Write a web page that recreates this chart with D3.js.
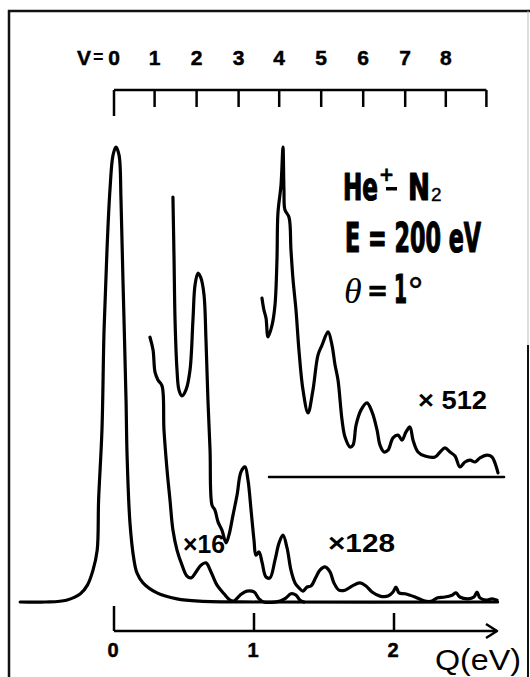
<!DOCTYPE html>
<html>
<head>
<meta charset="utf-8">
<script src="https://cdn.jsdelivr.net/npm/d3@7"></script>
<style>
  body { margin: 0; background: #fff; }
  svg { display: block; }
</style>
</head>
<body>
<script>
// energy loss Q (eV), intensity in % of the elastic peak (as drawn)
const curveX1 = [
  [-0.67, 0], [-0.49, 0], [-0.34, 0.4], [-0.24, 1.8], [-0.19, 3.7], [-0.15, 7.0],
  [-0.12, 11.4], [-0.11, 22.4], [-0.086, 37.8], [-0.071, 59.8], [-0.05, 77.4],
  [-0.029, 90.5], [-0.007, 98.2], [0.014, 100], [0.036, 98.2], [0.05, 88.4],
  [0.064, 70.8], [0.086, 44.4], [0.093, 32.7], [0.114, 17.4], [0.143, 9.2],
  [0.164, 6.4], [0.207, 4.2], [0.307, 2.0], [0.45, 0.7], [0.61, 0.2], [1.04, 0],
  [2.74, 0]
];

const curveX16 = [
  [0.257, 58.2], [0.279, 55.4], [0.293, 50.5], [0.314, 48.8], [0.343, 47.5],
  [0.357, 37.8], [0.379, 29.0], [0.4, 22.4], [0.421, 15.8], [0.45, 11.4],
  [0.486, 8.1], [0.521, 5.7], [0.55, 5.3], [0.586, 6.6], [0.621, 8.1],
  [0.657, 8.6], [0.693, 6.6], [0.736, 3.7], [0.786, 1.8], [0.829, 0.4],
  [0.857, 0.2], [0.9, 1.5], [0.95, 2.4], [1.0, 2.2], [1.036, 0.7], [1.07, 0],
  [1.186, 0.2], [1.229, 0.9], [1.264, 1.8], [1.3, 1.5], [1.329, 0.4], [1.357, 0]
];

const curveX128 = [
  [0.421, 89.0], [0.429, 75.2], [0.436, 62.0], [0.45, 51.0], [0.464, 46.6],
  [0.486, 45.3], [0.514, 46.6], [0.543, 51.0], [0.564, 62.0], [0.579, 69.7],
  [0.6, 72.3], [0.621, 71.2], [0.643, 67.5], [0.657, 57.6], [0.671, 44.4],
  [0.686, 33.4], [0.7, 21.3], [0.721, 20.2], [0.743, 17.6], [0.771, 15.8],
  [0.8, 13.0], [0.821, 14.7], [0.85, 19.1], [0.879, 23.5], [0.907, 28.6],
  [0.936, 29.7], [0.957, 26.8], [0.979, 20.2], [1.0, 13.6], [1.014, 10.3],
  [1.036, 11.0], [1.057, 8.8], [1.086, 5.5], [1.114, 5.3], [1.15, 9.2],
  [1.179, 13.0], [1.207, 14.7], [1.236, 11.9], [1.264, 7.0], [1.293, 4.2],
  [1.321, 3.1], [1.35, 2.4], [1.379, 3.3], [1.407, 3.5], [1.443, 5.5],
  [1.471, 7.0], [1.507, 7.7], [1.543, 6.6], [1.571, 4.2], [1.607, 2.6],
  [1.65, 2.6], [1.7, 3.5], [1.757, 4.2], [1.8, 3.5], [1.843, 2.2], [1.9, 1.3],
  [1.957, 1.3], [1.993, 2.2], [2.014, 3.3], [2.036, 2.0], [2.079, 1.8],
  [2.15, 1.1], [2.221, 0.2], [2.271, 0.2], [2.307, 0.9], [2.364, 1.1],
  [2.414, 1.5], [2.443, 2.0], [2.471, 1.1], [2.529, 0.7], [2.571, 1.1],
  [2.593, 2.2], [2.614, 0.9], [2.657, 0.4], [2.7, 0.7], [2.736, 0.4]
];

// x512 trace is drawn on its own raised baseline
const curveX512 = [
  [1.057, 39.3], [1.071, 36.7], [1.086, 34.9], [1.1, 30.8], [1.129, 33.4],
  [1.15, 37.8], [1.164, 47.7], [1.171, 58.0], [1.193, 64.2], [1.207, 72.5],
  [1.214, 63.1], [1.221, 58.7], [1.25, 57.1], [1.264, 49.9], [1.279, 43.3],
  [1.3, 36.7], [1.321, 27.9], [1.35, 19.1], [1.386, 14.1], [1.421, 19.1],
  [1.457, 26.8], [1.486, 29.0], [1.529, 31.9], [1.557, 29.0], [1.579, 24.6],
  [1.6, 21.3], [1.629, 12.5], [1.65, 8.8], [1.686, 6.6], [1.707, 7.0],
  [1.729, 11.4], [1.764, 14.7], [1.807, 16.3], [1.843, 14.3], [1.879, 10.3],
  [1.9, 7.0], [1.929, 5.5], [1.957, 5.9], [1.993, 8.6], [2.029, 9.2],
  [2.057, 8.1], [2.086, 9.9], [2.114, 11.0], [2.136, 8.1], [2.171, 5.5],
  [2.221, 4.6], [2.293, 4.4], [2.329, 5.5], [2.364, 6.4], [2.4, 5.5],
  [2.436, 4.6], [2.471, 2.2], [2.507, 3.3], [2.543, 3.7], [2.579, 3.3],
  [2.614, 4.2], [2.664, 4.8], [2.7, 4.4], [2.721, 3.1], [2.743, 0.9]
];
const baseX512 = [1.107, 2.786];

const vLabels = ['0', '1', '2', '3', '4', '5', '6', '7', '8'];
const vPositions = [0, 0.29, 0.59, 0.89, 1.18, 1.48, 1.78, 2.08, 2.37, 2.66];
const qTicks = [0, 1, 2];

const width = 530, height = 677;

const svg = d3.select('body').append('svg')
  .attr('width', width)
  .attr('height', height);

const x = d3.scaleLinear().domain([0, 1]).range([114, 254]);
const y = d3.scaleLinear().domain([0, 100]).range([602, 147]);
const y512 = d3.scaleLinear().domain([0, 100]).range([477, 22]);

const sans = 'Liberation Sans, Arial, Helvetica, sans-serif';
const cond = 'DejaVu Sans Condensed, Liberation Sans Narrow, Arial Narrow, sans-serif';

// frame
svg.append('path')
  .attr('d', 'M9,677 V11 H530')
  .attr('fill', 'none').attr('stroke', '#111').attr('stroke-width', 2.5);
svg.append('line')
  .attr('x1', 528).attr('x2', 528).attr('y1', 11).attr('y2', 345)
  .attr('stroke', '#bbb').attr('stroke-width', 1);
svg.append('line')
  .attr('x1', 528).attr('x2', 528).attr('y1', 345).attr('y2', 677)
  .attr('stroke', '#111').attr('stroke-width', 2);

const line = d3.line()
  .x(d => x(d[0]))
  .y(d => y(d[1]))
  .curve(d3.curveCatmullRom.alpha(0.5));

const line512 = d3.line()
  .x(d => x(d[0]))
  .y(d => y512(d[1]))
  .curve(d3.curveCatmullRom.alpha(0.5));

const traces = svg.append('g')
  .attr('fill', 'none')
  .attr('stroke', '#000')
  .attr('stroke-width', 3.2)
  .attr('stroke-linejoin', 'round')
  .attr('stroke-linecap', 'round');

traces.append('path').attr('d', line(curveX1));
traces.append('path').attr('d', line(curveX16));
traces.append('path').attr('d', line(curveX128));
traces.append('path').attr('d', line512(curveX512));
traces.append('line')
  .attr('x1', x(baseX512[0])).attr('x2', x(baseX512[1]))
  .attr('y1', y512(0)).attr('y2', y512(0))
  .attr('stroke-width', 2.5);

// vibrational level scale on top
const topY = 90;
const vAxis = svg.append('g').attr('stroke', '#000').attr('stroke-width', 2.5);
vAxis.append('line')
  .attr('x1', x(vPositions[0])).attr('x2', x(vPositions[vPositions.length - 1]))
  .attr('y1', topY).attr('y2', topY);
vAxis.selectAll('.vt').data(vPositions).join('line')
  .attr('x1', d => x(d)).attr('x2', d => x(d))
  .attr('y1', topY).attr('y2', (d, i) => i === 0 ? 116 : 107);

svg.selectAll('.vl').data(vLabels).join('text')
  .attr('x', (d, i) => x(vPositions[i]))
  .attr('y', 65)
  .attr('text-anchor', 'middle')
  .attr('font-family', sans)
  .attr('font-weight', 'bold')
  .attr('font-size', 21)
  .attr('stroke', '#000').attr('stroke-width', 0.5)
  .text(d => d);
svg.append('text')
  .attr('x', 77).attr('y', 65)
  .attr('font-family', sans)
  .attr('font-weight', 'bold').attr('font-size', 21)
  .attr('stroke', '#000').attr('stroke-width', 0.5)
  .text('V');
svg.append('text')
  .attr('x', 93).attr('y', 63)
  .attr('font-family', sans)
  .attr('font-weight', 'bold').attr('font-size', 18)
  .text('=');

// Q axis at the bottom
const axY = 631;
const qAxis = svg.append('g').attr('stroke', '#000').attr('stroke-width', 2.5).attr('fill', 'none');
qAxis.append('line')
  .attr('x1', x(0)).attr('x2', 497).attr('y1', axY).attr('y2', axY);
qAxis.append('path')
  .attr('d', `M486,624 L497,631 L486,638`)
  .attr('stroke-linejoin', 'round');
qAxis.selectAll('.qt').data(qTicks).join('line')
  .attr('x1', d => x(d)).attr('x2', d => x(d))
  .attr('y1', axY).attr('y2', d => d === 0 ? 606 : 613);

svg.selectAll('.ql').data(qTicks).join('text')
  .attr('x', d => x(d) - 1)
  .attr('y', 657)
  .attr('text-anchor', 'middle')
  .attr('font-family', sans)
  .attr('font-weight', 'bold')
  .attr('font-size', 20)
  .attr('stroke', '#000').attr('stroke-width', 0.5)
  .text(d => d);
svg.append('text')
  .attr('x', 435).attr('y', 670)
  .attr('font-family', sans)
  .attr('font-size', 30)
  .attr('textLength', 86).attr('lengthAdjust', 'spacingAndGlyphs')
  .text('Q(eV)');

// magnification labels
const magLabels = [
  {t: '\u00d716', x: 183, y: 553, w: 42},
  {t: '\u00d7128', x: 328, y: 552, w: 67},
  {t: '\u00d7 512', x: 418, y: 409, w: 69}
];
svg.selectAll('.mag').data(magLabels).join('text')
  .attr('x', d => d.x).attr('y', d => d.y)
  .attr('font-family', sans)
  .attr('font-weight', 'bold')
  .attr('font-size', 25)
  .attr('textLength', d => d.w).attr('lengthAdjust', 'spacingAndGlyphs')
  .text(d => d.t);

// condition text
const heavy = sel => sel.attr('font-family', cond).attr('font-weight', 'bold')
  .attr('stroke', '#000').attr('stroke-width', 1.2).attr('stroke-linejoin', 'round');

svg.append('text').call(heavy)
  .attr('x', 343).attr('y', 200).attr('font-size', 38)
  .attr('textLength', 35).attr('lengthAdjust', 'spacingAndGlyphs')
  .text('He');
svg.append('text').call(heavy)
  .attr('x', 379).attr('y', 181).attr('font-size', 20)
  .attr('stroke-width', 0.6)
  .text('+');
svg.append('rect')
  .attr('x', 386).attr('y', 187).attr('width', 11).attr('height', 3.5);
svg.append('text').call(heavy)
  .attr('x', 408).attr('y', 200).attr('font-size', 38)
  .attr('textLength', 22).attr('lengthAdjust', 'spacingAndGlyphs')
  .text('N');
svg.append('text')
  .attr('x', 431).attr('y', 201)
  .attr('font-family', sans).attr('font-size', 19)
  .attr('stroke', '#000').attr('stroke-width', 0.4)
  .text('2');

svg.append('text').call(heavy)
  .attr('x', 345).attr('y', 252).attr('font-size', 40)
  .attr('textLength', 136).attr('lengthAdjust', 'spacingAndGlyphs')
  .text('E = 200 eV');

svg.append('text')
  .attr('x', 344).attr('y', 303)
  .attr('font-family', 'Liberation Serif, serif').attr('font-style', 'italic')
  .attr('font-size', 36)
  .text('\u03b8');
svg.append('text').call(heavy)
  .attr('x', 367).attr('y', 300).attr('font-size', 28)
  .attr('stroke-width', 0.6)
  .text('=');
svg.append('text').call(heavy)
  .attr('x', 394).attr('y', 303).attr('font-size', 39)
  .attr('textLength', 13).attr('lengthAdjust', 'spacingAndGlyphs')
  .text('1');
svg.append('text')
  .attr('x', 408).attr('y', 304)
  .attr('font-family', sans).attr('font-size', 38)
  .attr('stroke', '#000').attr('stroke-width', 0.5)
  .text('\u00b0');
</script>
</body>
</html>
